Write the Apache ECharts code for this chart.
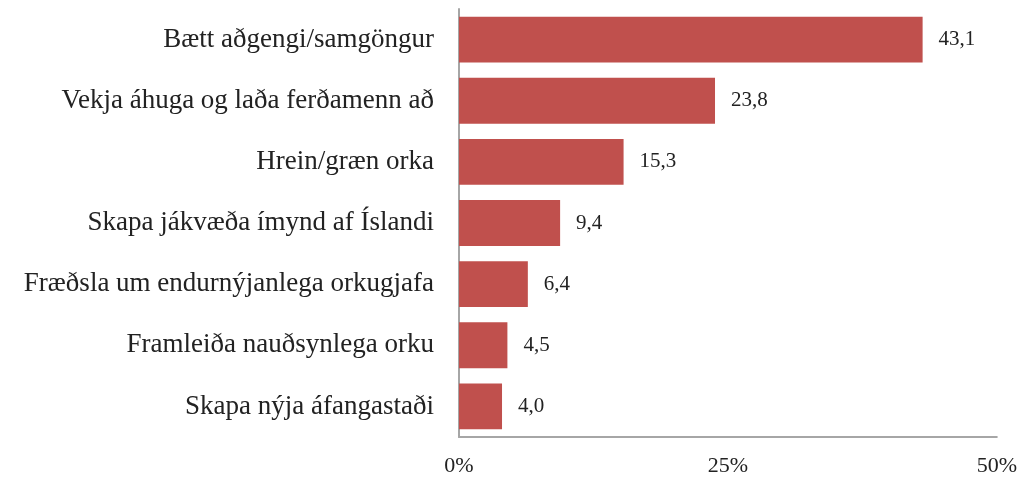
<!DOCTYPE html>
<html>
<head>
<meta charset="utf-8">
<script src="https://cdn.jsdelivr.net/npm/echarts@6/dist/echarts.min.js"></script>
<style>
  html, body { margin: 0; padding: 0; background: #fff; }
  #chart { width: 1020px; height: 479px; }
</style>
</head>
<body>
<div id="chart"></div>
<script>
// flokkar, efst til neðst
var categories = [
  "Bætt aðgengi/samgöngur",
  "Vekja áhuga og laða ferðamenn að",
  "Hrein/græn orka",
  "Skapa jákvæða ímynd af Íslandi",
  "Fræðsla um endurnýjanlega orkugjafa",
  "Framleiða nauðsynlega orku",
  "Skapa nýja áfangastaði"
];
var values = [43.1, 23.8, 15.3, 9.4, 6.4, 4.5, 4.0];
var xTicks = [0, 25, 50];

var chart = echarts.init(document.getElementById("chart"));
var font = "'Liberation Serif', 'DejaVu Serif', serif";

var option = {
  animation: false,
  grid: { left: 459, right: 23, top: 9, bottom: 42 },
  xAxis: {
    type: "value",
    min: 0,
    max: 50,
    interval: 25,
    axisLine: { show: true, lineStyle: { color: "#a6a6a6", width: 2 } },
    axisTick: { show: false },
    splitLine: { show: false },
    axisLabel: {
      margin: 18,
      color: "#222",
      fontFamily: font,
      fontSize: 22,
      formatter: function (v) { return xTicks.indexOf(v) >= 0 ? v + "%" : ""; }
    }
  },
  yAxis: {
    type: "category",
    inverse: true,
    data: categories,
    axisLine: { show: true, lineStyle: { color: "#a6a6a6", width: 2 } },
    axisTick: { show: false },
    axisLabel: {
      margin: 25,
      color: "#222",
      fontFamily: font,
      fontSize: 27
    }
  },
  series: [
    {
      type: "bar",
      data: values,
      barCategoryGap: "25%",
      itemStyle: { color: "#c0504d" },
      label: {
        show: true,
        position: "right",
        distance: 16,
        color: "#222",
        fontFamily: font,
        fontSize: 21,
        formatter: function (p) { return p.value.toFixed(1).replace(".", ","); }
      }
    }
  ]
};
chart.setOption(option);
</script>
</body>
</html>
